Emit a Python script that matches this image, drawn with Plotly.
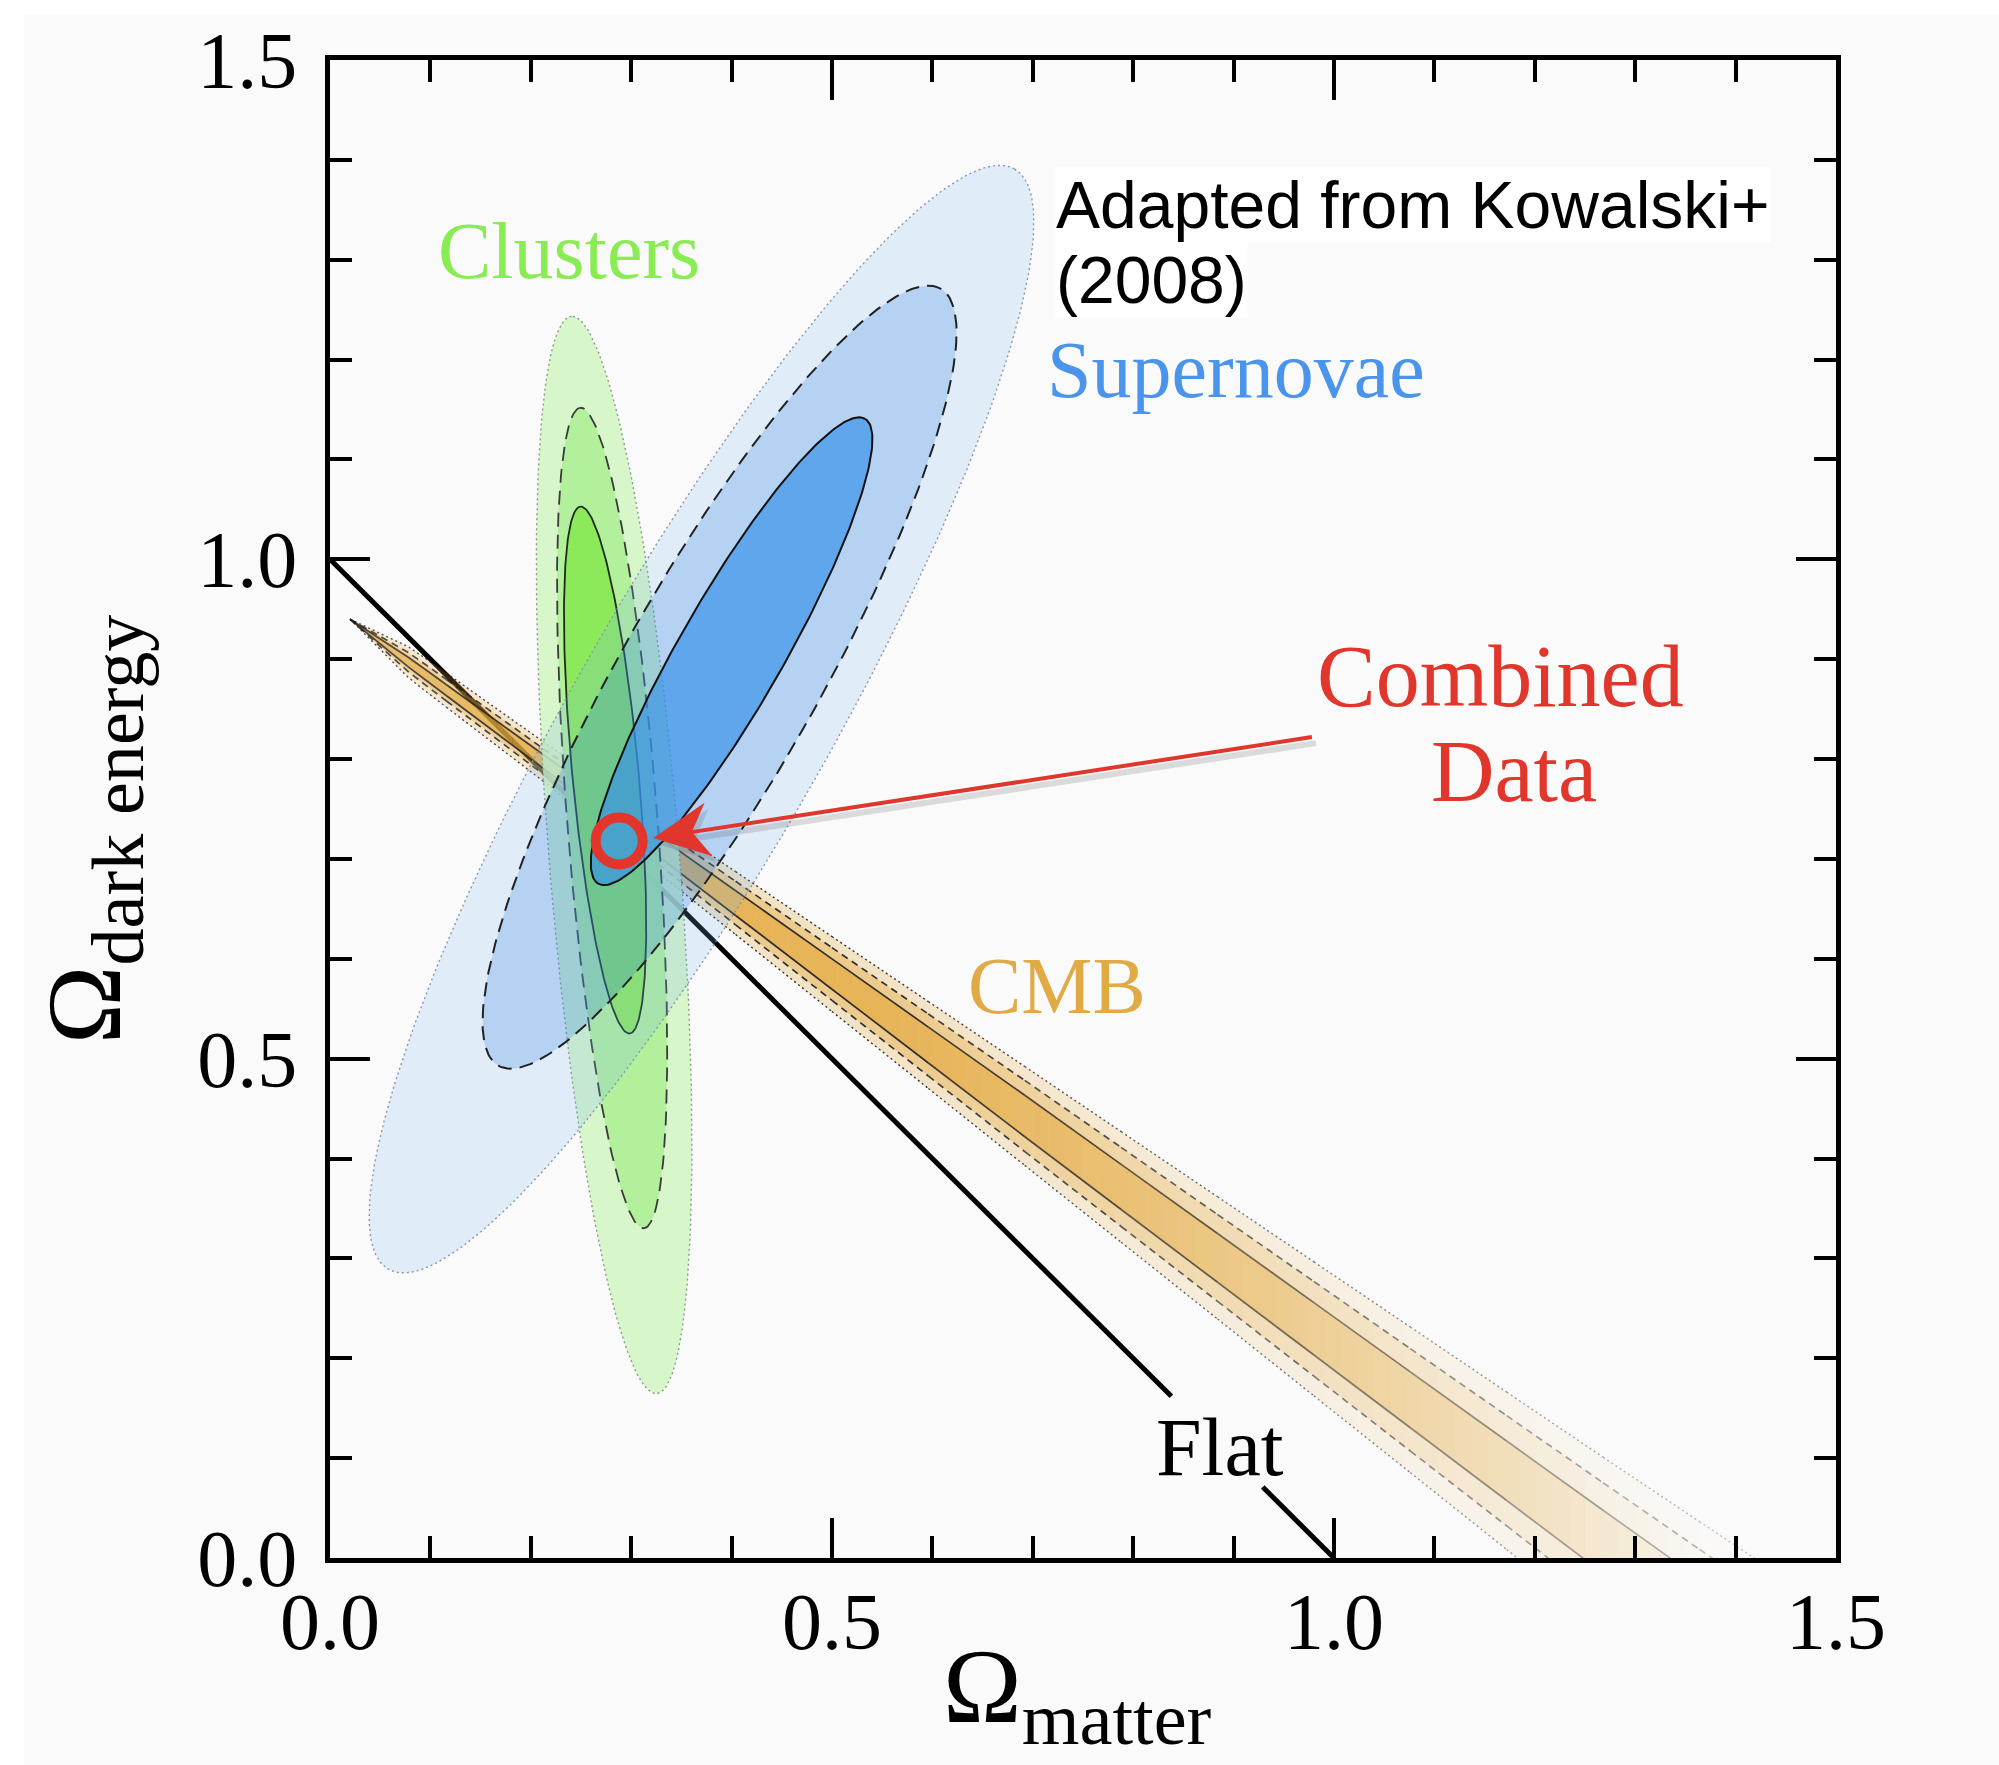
import numpy as np
import plotly.graph_objects as go

# ---------------- axis ticks ----------------
x_ticks = [0.0, 0.5, 1.0, 1.5]
y_ticks = [0.0, 0.5, 1.0, 1.5]

# ---------------- Supernovae contours (1, 2, 3 sigma) ----------------
sn_cx = [0.400, 0.388, 0.370]
sn_cy = [0.908, 0.882, 0.840]
sn_a = [0.268, 0.447, 0.633]
sn_b = [0.052, 0.098, 0.128]
sn_angle = [60.3, 60.5, 60.5]

# ---------------- Cluster contours (1, 2, 3 sigma) ----------------
cl_cx = [0.274, 0.281, 0.283]
cl_cy = [0.789, 0.741, 0.704]
cl_a = [0.265, 0.412, 0.541]
cl_b = [0.033, 0.045, 0.065]
cl_angle = [95.3, 94.4, 94.5]

# ---------------- CMB degeneracy band ----------------
cmb_x_start, cmb_y_start = 0.02, 0.94      # narrow tip of the band
cmb_x_end, cmb_y_end = 1.29, 0.0           # band centre meets Omega_DE = 0
cmb_w_x = [0.02, 0.08, 0.22, 0.70, 1.29, 1.46]
cmb_w_solid = [0.0, 0.005, 0.007, 0.021, 0.032, 0.036]
cmb_w_dashed = [0.0, 0.010, 0.013, 0.036, 0.060, 0.068]
cmb_w_dotted = [0.0, 0.016, 0.020, 0.050, 0.086, 0.098]
cmb_fade_x = [0.02, 0.15, 0.35, 0.55, 1.00, 1.42]
cmb_fade_v = [0.75, 0.85, 1.00, 1.00, 0.45, 0.00]

# ---------------- flat universe line (Omega_m + Omega_DE = 1) ----------------
flat_x = [0.0, 0.838, None, 0.929, 1.0]
flat_y = [None if v is None else 1.0 - v for v in flat_x]

# ---------------- combined best fit ----------------
combined_x = [0.288]
combined_y = [0.718]
arrow_head = (0.322, 0.721)
arrow_tail = (0.978, 0.822)

SERIF = "Liberation Serif, Times New Roman, serif"
SANS = "Liberation Sans, Arial, sans-serif"

# plot-area geometry (pixels per data unit) for the arrow shape
X_RANGE, Y_RANGE = (0, 1.5), (0, 1.5)
PLOT_W, PLOT_H = 1999 - 330 - 163, 1765 - 60 - 207
SX = PLOT_W / (X_RANGE[1] - X_RANGE[0])
SY = PLOT_H / (Y_RANGE[1] - Y_RANGE[0])


def ellipse(cx, cy, a, b, ang, n=240):
    t = np.linspace(0, 2 * np.pi, n)
    th = np.radians(ang)
    x = cx + a * np.cos(t) * np.cos(th) - b * np.sin(t) * np.sin(th)
    y = cy + a * np.cos(t) * np.sin(th) + b * np.sin(t) * np.cos(th)
    return x, y


def cmb_centre(x):
    f = (x - cmb_x_start) / (cmb_x_end - cmb_x_start)
    return cmb_y_start + (cmb_y_end - cmb_y_start) * f


cmb_widths = [cmb_w_solid, cmb_w_dashed, cmb_w_dotted]


def cmb_width(x, lvl):
    return np.interp(x, cmb_w_x, cmb_widths[lvl])


def arrow_shapes(head, tail, length=56, half_w=27, notch=17, dx_px=0, dy_px=0):
    """Shaft and swept-back head of an arrow, returned in data units."""
    hx, hy = head[0] * SX + dx_px, head[1] * SY + dy_px
    tx, ty = tail[0] * SX + dx_px, tail[1] * SY + dy_px
    d = np.array([tx - hx, ty - hy])
    d /= np.hypot(*d)
    p = np.array([-d[1], d[0]])
    tip = np.array([hx, hy])
    pts = [tip, tip + d * length + p * half_w, tip + d * (length - notch),
           tip + d * length - p * half_w, tip]
    head_x = [q[0] / SX for q in pts]
    head_y = [q[1] / SY for q in pts]
    base = tip + d * (length - notch - 2)
    shaft_x = [tx / SX, base[0] / SX]
    shaft_y = [ty / SY, base[1] / SY]
    return shaft_x, shaft_y, head_x, head_y


fig = go.Figure()

# flat line (sits beneath the contours)
fig.add_trace(go.Scatter(x=flat_x, y=flat_y, mode="lines",
                         line=dict(color="black", width=5),
                         hoverinfo="skip", showlegend=False))

# CMB band: nested fills, shaded along the band in short pieces
band_rgb = (228, 168, 60)
band_alpha = [0.667, 0.417, 0.28]          # core, middle, outer layers
xs = np.linspace(cmb_x_start, 1.46, 90)
for lvl in [2, 1, 0]:
    for i in range(len(xs) - 1):
        x0, x1 = xs[i], xs[i + 1]
        xm = 0.5 * (x0 + x1)
        fade = float(np.interp(xm, cmb_fade_x, cmb_fade_v))
        if fade <= 0.005:
            continue
        w0 = cmb_width(x0, lvl)
        w1 = cmb_width(x1, lvl)
        c0, c1 = cmb_centre(x0), cmb_centre(x1)
        px = [x0, x1, x1, x0, x0]
        py = [c0 + w0, c1 + w1, c1 - w1, c0 - w0, c0 + w0]
        a = band_alpha[lvl] * fade
        fig.add_trace(go.Scatter(
            x=px, y=py, mode="lines", fill="toself",
            fillcolor=f"rgba({band_rgb[0]},{band_rgb[1]},{band_rgb[2]},{a:.3f})",
            line=dict(width=0), hoverinfo="skip", showlegend=False))

# CMB contour lines
line_dash = ["solid", "7px,5px", "2px,3px"]
line_w = [1.7, 1.7, 1.4]
xl = np.linspace(cmb_x_start, 1.46, 16)
for lvl in range(3):
    for sign in (1, -1):
        for i in range(len(xl) - 1):
            seg = np.linspace(xl[i], xl[i + 1], 6)
            fade = float(np.interp(seg.mean(), cmb_fade_x, cmb_fade_v))
            a = 0.25 + 0.65 * fade
            fig.add_trace(go.Scatter(
                x=seg, y=cmb_centre(seg) + sign * cmb_width(seg, lvl),
                mode="lines",
                line=dict(color=f"rgba(30,30,30,{a:.3f})", width=line_w[lvl],
                          dash=line_dash[lvl]),
                hoverinfo="skip", showlegend=False))

# Cluster contours (outer to inner)
cl_fill = ["rgba(133,231,78,0.85)", "rgba(172,239,148,0.85)", "rgba(208,244,192,0.85)"]
cl_line = [dict(color="#1e2a1e", width=1.8, dash="solid"),
           dict(color="#3a3a3a", width=1.8, dash="14px,8px"),
           dict(color="#8a9a8a", width=1.4, dash="2px,3px")]
for k in [2, 1, 0]:
    ex, ey = ellipse(cl_cx[k], cl_cy[k], cl_a[k], cl_b[k], cl_angle[k])
    fig.add_trace(go.Scatter(x=ex, y=ey, mode="lines", fill="toself",
                             fillcolor=cl_fill[k], line=cl_line[k],
                             hoverinfo="skip", showlegend=False))

# Supernovae contours (outer to inner), translucent over the clusters
sn_fill = ["rgba(52,144,232,0.667)", "rgba(22,114,229,0.2125)", "rgba(120,180,240,0.20)"]
sn_line = [dict(color="#111111", width=2.0, dash="solid"),
           dict(color="#222222", width=2.0, dash="14px,8px"),
           dict(color="#8898aa", width=1.4, dash="2px,3px")]
for k in [2, 1, 0]:
    ex, ey = ellipse(sn_cx[k], sn_cy[k], sn_a[k], sn_b[k], sn_angle[k])
    fig.add_trace(go.Scatter(x=ex, y=ey, mode="lines", fill="toself",
                             fillcolor=sn_fill[k], line=sn_line[k],
                             hoverinfo="skip", showlegend=False))

# combined best-fit point
fig.add_trace(go.Scatter(x=combined_x, y=combined_y, mode="markers",
                         marker=dict(symbol="circle-open", size=47, color="#e2352b",
                                     line=dict(width=10)),
                         hoverinfo="skip", showlegend=False))

# pointer arrow with a soft drop shadow
RED = "#e0362c"
for dx_px, dy_px, col, w in [(4, -6, "rgba(70,70,70,0.18)", 6),
                             (0, 0, RED, 4)]:
    sx_, sy_, hx_, hy_ = arrow_shapes(arrow_head, arrow_tail, dx_px=dx_px, dy_px=dy_px)
    fig.add_trace(go.Scatter(x=sx_, y=sy_, mode="lines",
                             line=dict(color=col, width=w),
                             hoverinfo="skip", showlegend=False))
    fig.add_trace(go.Scatter(x=hx_, y=hy_, mode="lines", fill="toself",
                             fillcolor=col, line=dict(width=0),
                             hoverinfo="skip", showlegend=False))

annotations = [
    dict(x=0.238, y=1.309, xref="x", yref="y", text="Clusters", showarrow=False,
         font=dict(family=SERIF, size=80, color="#88ec52")),
    dict(x=0.902, y=1.19, xref="x", yref="y", text="Supernovae", showarrow=False,
         font=dict(family=SERIF, size=80, color="#4a94ec")),
    dict(x=0.724, y=0.573, xref="x", yref="y", text="CMB", showarrow=False,
         font=dict(family=SERIF, size=80, color="#e0aa45")),
    dict(x=1.166, y=0.883, xref="x", yref="y", text="Combined", showarrow=False,
         font=dict(family=SERIF, size=88, color=RED)),
    dict(x=1.179, y=0.788, xref="x", yref="y", text="Data", showarrow=False,
         font=dict(family=SERIF, size=88, color=RED)),
    dict(x=0.886, y=0.111, xref="x", yref="y", text="Flat", showarrow=False,
         font=dict(family=SERIF, size=82, color="black")),
    dict(x=0.722, y=1.355, xref="x", yref="y", xanchor="left",
         text="Adapted from Kowalski+", showarrow=False, bgcolor="white", borderpad=0,
         font=dict(family=SANS, size=66, color="black")),
    dict(x=0.722, y=1.28, xref="x", yref="y", xanchor="left",
         text="(2008)", showarrow=False, bgcolor="white", borderpad=0,
         font=dict(family=SANS, size=66, color="black")),
    # axis titles
    dict(x=0.745, y=-0.136, xref="x", yref="paper", text="Ω<sub>matter</sub>",
         showarrow=False, font=dict(family=SERIF, size=106, color="black")),
    dict(x=-0.203, y=0.73, xref="paper", yref="y", text="Ω<sub>dark energy</sub>",
         textangle=-90, showarrow=False,
         font=dict(family=SERIF, size=106, color="black")),
]

axis_common = dict(
    showline=True, linecolor="black", linewidth=4.5, mirror="ticks",
    ticks="inside", ticklen=40, tickwidth=3.5, tickcolor="black",
    showgrid=False, zeroline=False, tickformat=".1f",
    tickfont=dict(family=SERIF, size=80, color="black"),
    minor=dict(ticks="inside", ticklen=22, tickwidth=3.5, tickcolor="black",
               dtick=0.1, showgrid=False),
)

fig.update_layout(
    width=1999, height=1765, autosize=False,
    margin=dict(l=330, r=163, t=60, b=207),
    paper_bgcolor="white", plot_bgcolor="#fafafa",
    xaxis=dict(range=list(X_RANGE), tickvals=x_ticks, ticklabelstandoff=-10, **axis_common),
    yaxis=dict(range=list(Y_RANGE), tickvals=y_ticks, ticklabelstandoff=12, **axis_common),
    annotations=annotations,
    shapes=[dict(type="rect", xref="paper", yref="paper", layer="below",
                 x0=-0.203, x1=1.11, y0=-0.14, y1=1.0307,
                 fillcolor="#fafafa", line=dict(width=0))],
    showlegend=False,
)

fig.write_html("out.html")
